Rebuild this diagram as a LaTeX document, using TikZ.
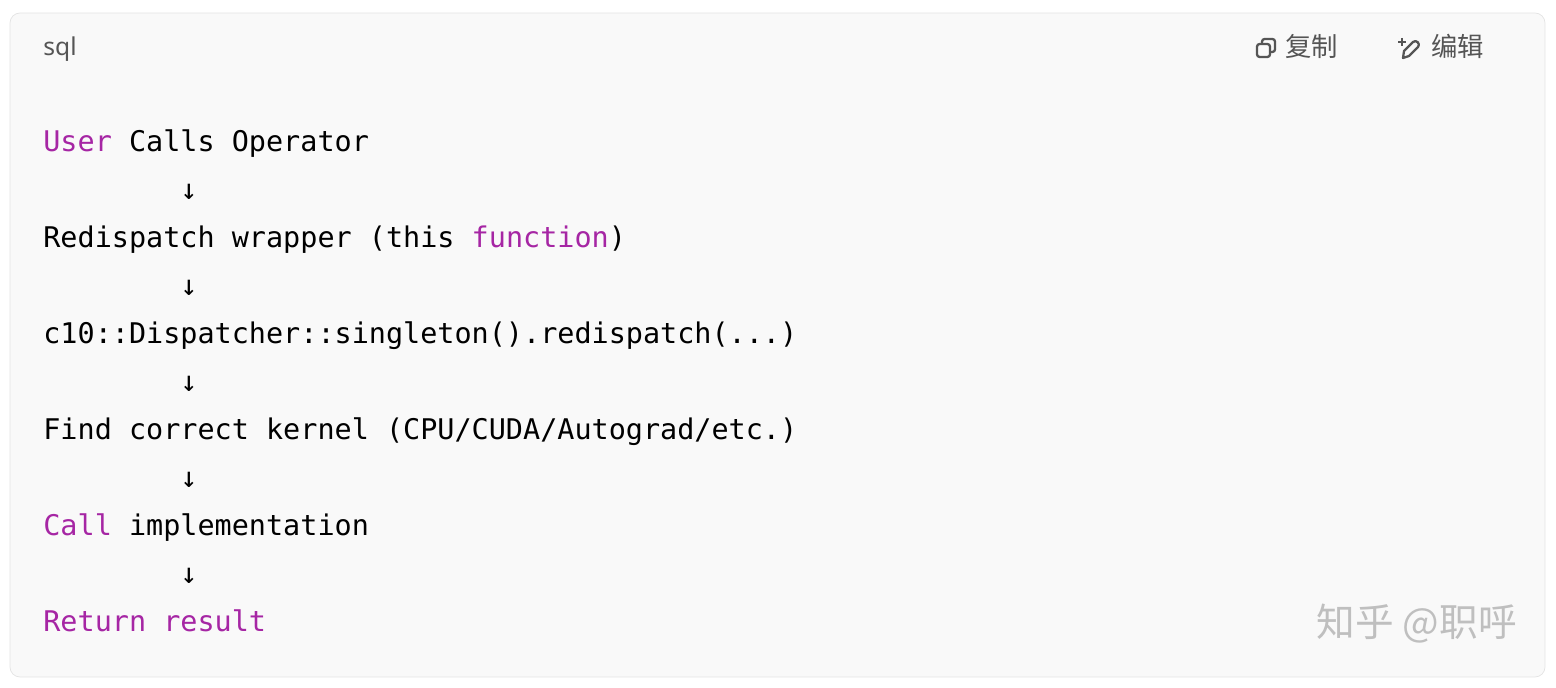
\documentclass[tikz,border=0pt]{standalone}
\usepackage{fontspec}
\usepackage{xcolor}
\setmonofont{DejaVu Sans Mono}
\setsansfont{Noto Sans}
\newfontfamily\cjk{Noto Sans CJK SC}
\definecolor{kwpurple}{HTML}{A626A4}
\definecolor{codebg}{HTML}{F9F9F9}
\definecolor{codeframe}{HTML}{E3E3E3}
\definecolor{icongray}{HTML}{555555}
\tikzset{
  codeline/.style={anchor=base west, inner sep=0pt, font=\ttfamily\fontsize{16.2}{18}\selectfont, text=black},
  kw/.style={text=kwpurple}
}
\newcommand{\kwd}[1]{\textcolor{kwpurple}{#1}}
\begin{document}
\begin{tikzpicture}[x=0.02cm,y=-0.02cm]
    \useasboundingbox (0,0) rectangle (1556,688);
    % Frame
    \draw [fill=codebg, draw=codeframe, rounded corners=0.2cm] (10,13) rectangle (1545,677);
    \node (lang) [anchor=base west, inner sep=0pt, font=\sffamily\fontsize{14}{16}\selectfont, text=icongray] at (43,56) {sql};
    % Copy icon
    \draw [icongray, line width=1.3pt, rounded corners=1.5pt] (1257,44) rectangle (1270,57);
    \draw [icongray, line width=1.3pt, rounded corners=1.5pt] (1262,44) -- (1262,39) -- (1275,39) -- (1275,52) -- (1270,52);
    \node (copy) [anchor=base west, inner sep=0pt, font=\cjk\fontsize{15}{17}\selectfont, text=icongray] at (1285,57) {复制};
    % Edit icon
    \draw [icongray, line width=1.3pt, line join=round] (1403,58) -- (1404,51) -- (1413,42) .. controls (1416,39) and (1421,44) .. (1418,47) -- (1409,56) -- cycle;
    \draw [icongray, line width=1pt] (1398,42) -- (1406,42) (1402,38) -- (1402,46);
    \node (edit) [anchor=base west, inner sep=0pt, font=\cjk\fontsize{15}{17}\selectfont, text=icongray] at (1431,57) {编辑};
    % Code lines
    \node (l1) [codeline] at (43,152) {\kwd{User} Calls Operator};
    \node (a1) [codeline] at (43,200) {\ \ \ \ \ \ \ \ ↓};
    \node (l2) [codeline] at (43,248) {Redispatch wrapper (this \kwd{function})};
    \node (a2) [codeline] at (43,296) {\ \ \ \ \ \ \ \ ↓};
    \node (l3) [codeline] at (43,344) {c10::Dispatcher::singleton().redispatch(...)};
    \node (a3) [codeline] at (43,392) {\ \ \ \ \ \ \ \ ↓};
    \node (l4) [codeline] at (43,440) {Find correct kernel (CPU/CUDA/Autograd/etc.)};
    \node (a4) [codeline] at (43,488) {\ \ \ \ \ \ \ \ ↓};
    \node (l5) [codeline] at (43,536) {\kwd{Call} implementation};
    \node (a5) [codeline] at (43,584) {\ \ \ \ \ \ \ \ ↓};
    \node (l6) [codeline] at (43,632) {\kwd{Return} \kwd{result}};
    % Watermark
    \node (mark) [anchor=base east, inner sep=0pt, font=\cjk\fontsize{22}{24}\selectfont, text=black!25] at (1517,637) {知乎 @职呼};
\end{tikzpicture}
\end{document}
